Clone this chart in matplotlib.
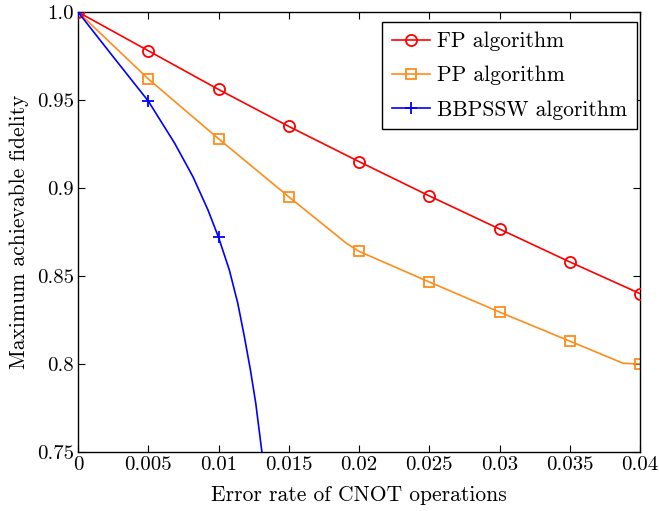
import matplotlib
matplotlib.use("Agg")
import matplotlib.pyplot as plt

plt.rcParams['font.family'] = ['cmr10', 'DejaVu Serif']
plt.rcParams['mathtext.fontset'] = 'cm'
plt.rcParams['axes.unicode_minus'] = False

# FP algorithm
fp_x = [0, 0.005, 0.01, 0.015, 0.02, 0.025, 0.03, 0.035, 0.04]
fp_y = [1.0, 0.978, 0.956, 0.935, 0.915, 0.8955, 0.8767, 0.858, 0.840]
fp_marks = [0, 1, 2, 3, 4, 5, 6, 7, 8]

# PP algorithm (line includes the kink points)
pp_x = [0, 0.005, 0.01, 0.015, 0.0191, 0.02, 0.025, 0.03, 0.035, 0.0388, 0.04]
pp_y = [1.0, 0.962, 0.928, 0.895, 0.8686, 0.864, 0.8466, 0.8295, 0.813, 0.8004, 0.800]
pp_marks = [0, 1, 2, 3, 5, 6, 7, 8, 10]

# BBPSSW algorithm
bb_x = [0, 0.0025, 0.005, 0.00688, 0.00818, 0.00925, 0.01, 0.01077, 0.01137,
        0.01184, 0.01227, 0.01265, 0.01307, 0.0133]
bb_y = [1.0, 0.9746, 0.9494, 0.9254, 0.9064, 0.8875, 0.872, 0.8534, 0.8345,
        0.8155, 0.7966, 0.7777, 0.7511, 0.735]
bb_marks = [0, 2, 6]

xticks = [0, 0.005, 0.01, 0.015, 0.02, 0.025, 0.03, 0.035, 0.04]
xtick_labels = ['0', '0.005', '0.01', '0.015', '0.02', '0.025', '0.03', '0.035', '0.04']
yticks = [0.75, 0.8, 0.85, 0.9, 0.95, 1.0]
ytick_labels = ['0.75', '0.8', '0.85', '0.9', '0.95', '1.0']

fig = plt.figure(figsize=(6.59, 5.11), dpi=100)
ax = fig.add_axes([0.1184, 0.1155, 0.8528, 0.861])

lw = 1.2
ax.plot(fp_x, fp_y, color='#ff0000', lw=lw, marker='o', markevery=fp_marks,
        markersize=8, markerfacecolor='none', markeredgewidth=1.3, label='FP algorithm', zorder=3)
ax.plot(pp_x, pp_y, color='#ff8c1a', lw=lw, marker='s', markevery=pp_marks,
        markersize=7, markerfacecolor='none', markeredgewidth=1.3, label='PP algorithm', zorder=2)
ax.plot(bb_x, bb_y, color='#0000ff', lw=lw, marker='+', markevery=bb_marks,
        markersize=9, markeredgewidth=1.3, label='BBPSSW algorithm', zorder=4)

ax.set_xlim(0, 0.04)
ax.set_ylim(0.75, 1.0)
ax.set_xticks(xticks)
ax.set_xticklabels(xtick_labels)
ax.set_yticks(yticks)
ax.set_yticklabels(ytick_labels)
ax.tick_params(direction='in', top=True, right=True, labelsize=15, length=5, width=0.8, pad=3)
for s in ax.spines.values():
    s.set_linewidth(1.0)

ax.set_xlabel('Error rate of CNOT operations', fontsize=15.5, labelpad=8)
ax.set_ylabel('Maximum achievable fidelity', fontsize=15.5, labelpad=6)

leg = ax.legend(loc='upper right', fontsize=15.5, frameon=True, fancybox=False,
                edgecolor='black', framealpha=1, borderaxespad=0,
                bbox_to_anchor=(637 / 659, (511 - 22) / 511), bbox_transform=fig.transFigure,
                handlelength=1.75, handletextpad=0.35, labelspacing=0.68, borderpad=0.45)
leg.get_frame().set_linewidth(1.0)

fig.savefig('out.png', dpi=100)
